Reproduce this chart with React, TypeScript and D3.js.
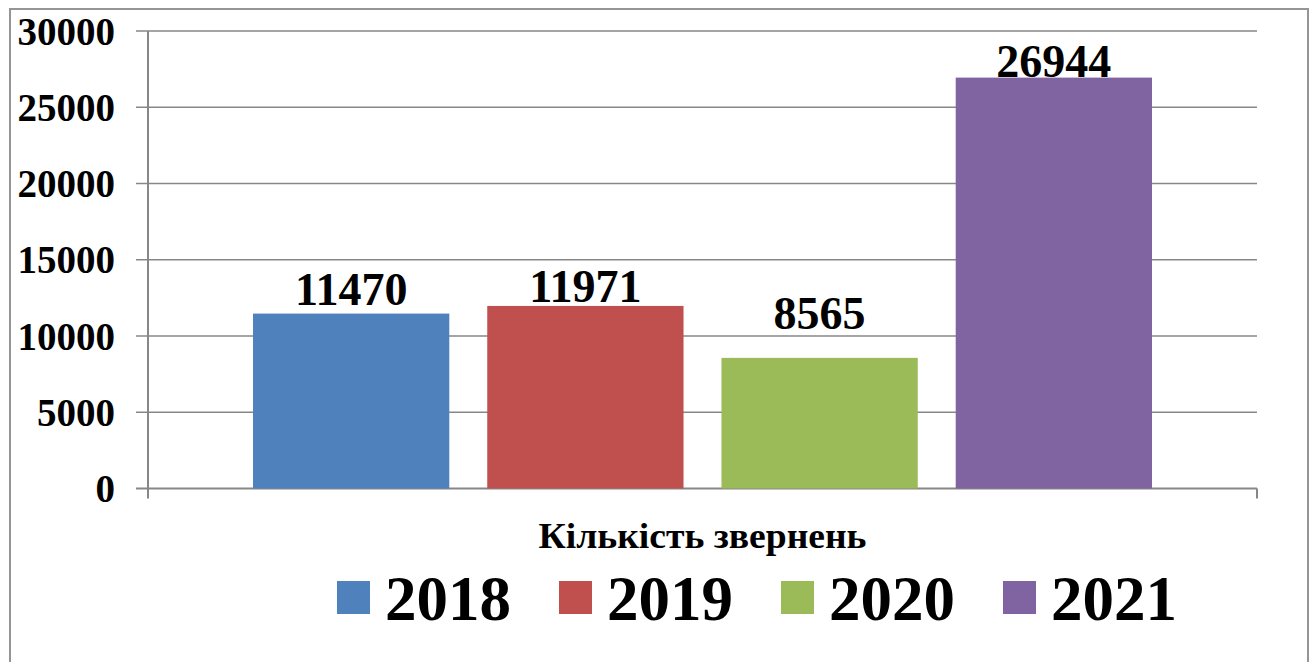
import React from "react";
import * as d3 from "d3";

const category = "Кількість звернень";
const years = ["2018", "2019", "2020", "2021"];
const values = [11470, 11971, 8565, 26944];
const colors = ["#4f81bd", "#c0504d", "#9bbb59", "#8064a2"];
const yTicks = [0, 5000, 10000, 15000, 20000, 25000, 30000];

// manual label lift above bar tops (styling, as in the original)
const labelLift = [9, 4, 29, 1];

const W = 1314;
const H = 662;
const plot = { left: 148, right: 1257, top: 31, bottom: 488.5 };
const FONT = "'Liberation Serif', 'Times New Roman', serif";
const AXIS = "#878787";

export default function App() {
  const y = d3.scaleLinear().domain([0, 30000]).range([plot.bottom, plot.top]);
  const x0 = d3
    .scaleBand<string>()
    .domain([category])
    .range([plot.left, plot.right])
    .paddingInner(0.1046)
    .paddingOuter(0.1046);
  const x1 = d3
    .scaleBand<string>()
    .domain(years)
    .range([x0(category)!, x0(category)! + x0.bandwidth()])
    .paddingInner(0.162)
    .paddingOuter(0);

  const legendStart = 337;
  const legendStep = 222;
  const sq = 33;

  return (
    <svg
      width={W}
      height={H}
      style={{ position: "absolute", left: 0, top: 0, background: "#fff" }}
      fontFamily={FONT}
      fontWeight="bold"
    >
      <rect x={0} y={0} width={W} height={H} fill="#fff" />
      <rect x={10} y={9} width={1298} height={670} fill="none" stroke="#959595" strokeWidth={2} />

      {/* gridlines */}
      {yTicks.map((t) => (
        <line
          key={"g" + t}
          x1={plot.left - 12}
          x2={plot.right}
          y1={y(t)}
          y2={y(t)}
          stroke={AXIS}
          strokeWidth={t === 0 ? 2 : 1.6}
        />
      ))}
      {/* y axis */}
      <line x1={plot.left} x2={plot.left} y1={plot.top} y2={plot.bottom + 10} stroke={AXIS} strokeWidth={2} />
      {/* right category tick */}
      <line x1={plot.right} x2={plot.right} y1={plot.bottom} y2={plot.bottom + 10} stroke={AXIS} strokeWidth={2} />

      {/* tick labels */}
      {yTicks.map((t) => (
        <text
          key={"t" + t}
          x={115}
          y={y(t)}
          dy="0.35em"
          textAnchor="end"
          fontSize={39}
          fill="#000"
        >
          {t}
        </text>
      ))}

      {/* bars */}
      {years.map((yr, i) => (
        <rect
          key={yr}
          x={x1(yr)}
          y={y(values[i])}
          width={x1.bandwidth()}
          height={y(0) - y(values[i])}
          fill={colors[i]}
        />
      ))}
      {/* value labels */}
      {years.map((yr, i) => (
        <text
          key={"v" + yr}
          x={x1(yr)! + x1.bandwidth() / 2}
          y={y(values[i]) - labelLift[i]}
          textAnchor="middle"
          fontSize={46}
          fill="#000"
        >
          {values[i]}
        </text>
      ))}

      {/* category label */}
      <text
        x={x0(category)! + x0.bandwidth() / 2}
        y={548}
        textAnchor="middle"
        fontSize={36}
        textLength={328}
        lengthAdjust="spacingAndGlyphs"
        fill="#000"
      >
        {category}
      </text>

      {/* legend */}
      {years.map((yr, i) => (
        <g key={"l" + yr} transform={`translate(${legendStart + i * legendStep},0)`}>
          <rect x={0} y={581} width={sq} height={sq} fill={colors[i]} />
          <text x={48} y={620} fontSize={63} fill="#000">
            {yr}
          </text>
        </g>
      ))}
    </svg>
  );
}
